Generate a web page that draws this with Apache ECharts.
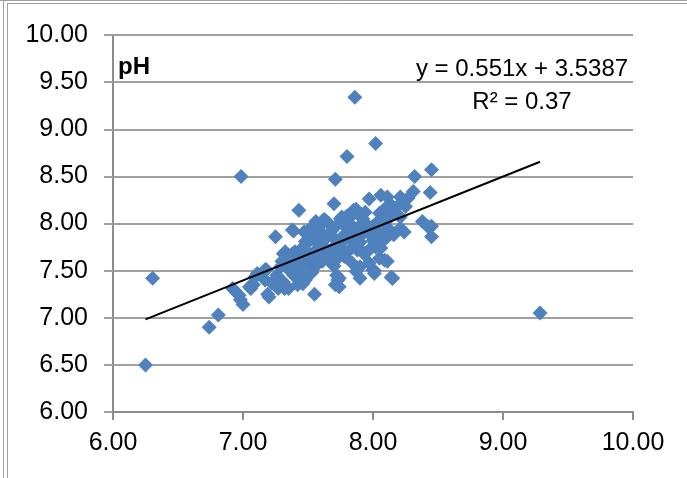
<!DOCTYPE html>
<html>
<head>
<meta charset="utf-8">
<script src="https://cdn.jsdelivr.net/npm/echarts@6/dist/echarts.min.js"></script>
<style>
html,body{margin:0;padding:0;background:#fff;}
#c{width:687px;height:478px;}
</style>
</head>
<body>
<div id="c"></div>
<script>
// x values (first measure) and y values (pH)
const xs = [6.25,6.305,6.74,6.81,6.985,7.86,8.02,7.80,7.71,8.45,8.32,8.44,9.285,7.43,7.25,7.38,7.70,7.97,7.55,8.14,8.45,8.45,
  7.39,7.325,7.40,7.47,7.87,8.06,7.49,7.56,7.63,7.76,7.84,7.92,7.97,7.92,7.82,7.71,7.61,7.51,7.48,8.05,
  8.31,8.27,8.21,8.11,8.13,8.20,8.25,8.08,8.16,8.21,8.11,8.07,8.13,8.21,8.24,8.16,8.11,8.38,8.42,8.06,
  8.09,8.15,8.00,7.90,7.74,7.71,7.54,7.29,7.39,7.52,7.62,7.85,7.31,7.18,7.11,7.44,7.42,7.57,7.75,7.90,8.00,
  6.92,6.97,7.00,6.98,6.94,7.06,7.08,7.17,7.20,7.17,7.22,7.27,7.31,7.35,7.30,7.42,7.39,7.44,7.47,7.26,
  7.32,7.19,7.46,7.05,7.74,7.73,7.72,7.90,7.87,8.01,7.97,7.84,7.48,7.61,7.71,8.05,8.11,8.15,8.14,8.02,8.01,7.93,7.15,7.09,
  7.35,7.33,7.36,7.40,7.45,7.43,7.50,7.52,7.55,7.58,7.56,7.60,7.62,7.65,7.66,7.68,7.70,7.72,7.74,7.76,7.78,7.80,7.82,7.84,
  7.86,7.88,7.90,7.92,7.94,7.96,7.98,8.00,8.02,8.04,8.06,8.08,8.10,8.12,7.68,7.66,7.72,7.75,7.80,7.58,7.54,7.50,7.47,7.64,
  7.70,7.78,7.82,7.85,7.88,7.90,7.60,7.62,7.56,7.53,7.45,7.42,7.38];
const ys = [6.50,7.42,6.90,7.03,8.50,9.34,8.85,8.71,8.47,8.57,8.50,8.33,7.05,8.14,7.86,7.93,8.21,8.26,7.25,7.43,7.86,7.97,
  7.92,7.70,7.70,7.91,8.15,8.30,7.91,8.02,8.04,8.07,8.09,7.93,7.72,7.70,7.86,7.83,7.75,7.68,7.81,8.11,
  8.34,8.27,8.28,8.28,8.21,8.20,8.18,8.14,8.11,8.07,8.04,7.98,7.93,7.95,7.91,7.88,7.86,8.02,7.97,7.74,
  7.61,7.42,7.51,7.54,7.42,7.35,7.60,7.54,7.61,7.95,8.04,8.14,7.68,7.51,7.47,7.72,7.58,7.68,7.75,7.86,7.97,
  7.31,7.24,7.14,7.19,7.28,7.31,7.35,7.51,7.22,7.40,7.37,7.31,7.38,7.31,7.60,7.35,7.45,7.53,7.63,7.45,
  7.31,7.25,7.36,7.33,7.33,7.40,7.45,7.42,7.49,7.47,7.58,7.58,7.40,7.60,7.63,7.63,7.60,7.42,7.90,7.75,7.50,7.68,7.48,7.43,
  7.65,7.58,7.50,7.48,7.45,7.40,7.55,7.62,7.70,7.78,7.85,7.90,7.82,7.72,7.65,7.58,7.55,7.62,7.70,7.80,7.88,7.95,8.00,7.93,
  7.78,7.72,7.80,8.05,8.12,7.98,7.88,7.82,7.92,8.02,7.88,7.82,7.95,8.15,7.92,8.00,7.98,8.05,8.08,7.95,7.88,7.80,7.72,7.85,
  7.75,7.65,7.72,7.85,7.95,8.10,7.70,7.62,7.55,7.48,7.60,7.65,7.68];
const xTicks = ['6.00','7.00','8.00','9.00','10.00'];
const slope = 0.551, intercept = 3.5387, r2 = 0.37;

const pts = xs.map((x,i)=>[x, ys[i]]);
const xMin = Math.min(...xs), xMax = Math.max(...xs);
const trend = [[xMin, slope*xMin+intercept],[xMax, slope*xMax+intercept]];

const FONT = 'Liberation Sans';
const chart = echarts.init(document.getElementById('c'), null, {renderer:'canvas'});
chart.setOption({
  animation:false,
  backgroundColor:'#fff',
  grid:{left:113,right:54,top:35,bottom:66,containLabel:false},
  xAxis:{type:'value',min:6,max:10,interval:1,
    axisLine:{show:true,onZero:false,lineStyle:{color:'#8c8c8c',width:2}},
    axisTick:{show:true,length:8,inside:false,lineStyle:{color:'#8c8c8c',width:2}},
    splitLine:{show:false},
    axisLabel:{margin:19,fontFamily:FONT,fontSize:25,color:'#000',
      formatter:v=>xTicks[Math.round(v-6)]}},
  yAxis:{type:'value',min:6,max:10,interval:0.5,
    axisLine:{show:true,lineStyle:{color:'#8c8c8c',width:2}},
    axisTick:{show:true,length:9,inside:false,lineStyle:{color:'#a0a0a0',width:2}},
    splitLine:{show:true,lineStyle:{color:'#a0a0a0',width:2}},
    axisLabel:{margin:25,fontFamily:FONT,fontSize:25,color:'#000',formatter:v=>v.toFixed(2)}},
  series:[
    {type:'scatter',data:pts,symbol:'diamond',symbolSize:15,
      itemStyle:{color:'#4F81BD',opacity:1},z:3},
    {type:'line',data:trend,symbol:'none',lineStyle:{color:'#000',width:2},z:4,silent:true}
  ],
  graphic:[
    {type:'line',shape:{x1:3.5,y1:0,x2:3.5,y2:478},style:{stroke:'#a0a0a0',lineWidth:1}},
    {type:'line',shape:{x1:7.5,y1:3,x2:7.5,y2:478},style:{stroke:'#a0a0a0',lineWidth:1}},
    {type:'line',shape:{x1:0,y1:0.5,x2:687,y2:0.5},style:{stroke:'#a0a0a0',lineWidth:1}},
    {type:'line',shape:{x1:7,y1:3.5,x2:687,y2:3.5},style:{stroke:'#a0a0a0',lineWidth:1}},
    {type:'text',left:118,top:55,style:{text:'pH',font:'bold 24px '+FONT,fill:'#000'}},
    {type:'text',x:522,y:69,style:{text:'y = '+slope+'x + '+intercept,font:'24px '+FONT,fill:'#000',textAlign:'center',textVerticalAlign:'middle'}},
    {type:'text',x:522,y:102,style:{text:'R² = '+r2,font:'24px '+FONT,fill:'#000',textAlign:'center',textVerticalAlign:'middle'}}
  ]
});
</script>
</body>
</html>
